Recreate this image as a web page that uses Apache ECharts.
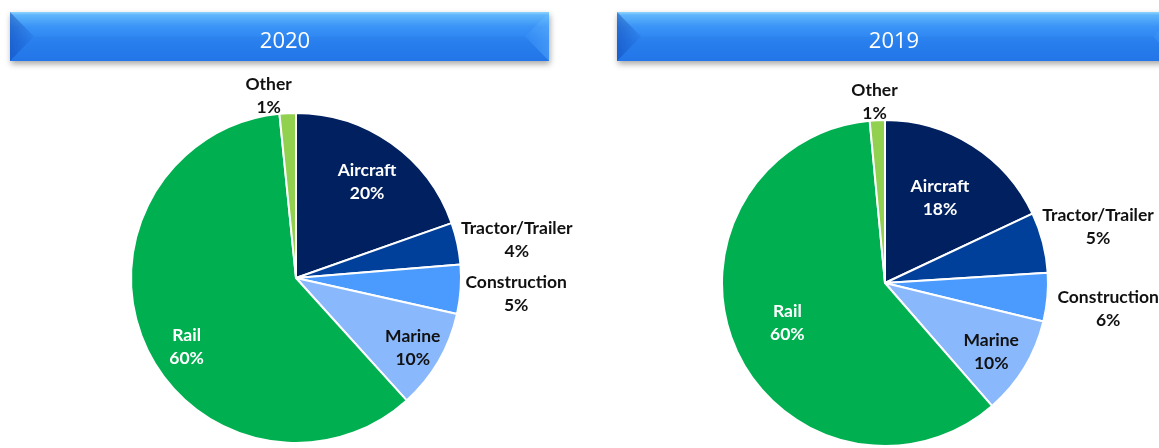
<!DOCTYPE html>
<html><head><meta charset="utf-8">
<script src="https://cdn.jsdelivr.net/npm/echarts@6/dist/echarts.min.js"></script>
<style>html,body{margin:0;padding:0;background:#fff}#c{width:1159px;height:448px}</style>
</head><body><div id="c"></div>
<script>
const categories = ['Aircraft','Tractor/Trailer','Construction','Marine','Rail','Other'];
const years = ['2020','2019'];
const values2020 = [19.6, 4.1, 4.8, 9.8, 60.1, 1.6];
const values2019 = [18.0, 6.0, 4.8, 9.8, 59.9, 1.5];
const pctLabels2020 = ['20%','4%','5%','10%','60%','1%'];
const pctLabels2019 = ['18%','5%','6%','10%','60%','1%'];

// layout-only label nudges (pixels), per category order
const nudge2020 = [[-5,11],[0,9],[-5,0],[3,4],[11,15],[-16,43]];
const nudge2019 = [[-6,11],[-3,-1],[1,6],[9,10],[7,-5],[0,42]];

const colors = ['#002060','#003f9a','#4a9bfd','#8ab8fd','#00b050','#92d050'];
const insideSet = {'Aircraft':'#ffffff','Rail':'#ffffff','Marine':'#111111'};
const FONT = 'Lato';
const FS = 17.5, LH = 23;

const chart = echarts.init(document.getElementById('c'));

function pies(vals, labels, center, r, innerFrac, nudge) {
  const base = {
    type:'pie', center:center, radius:[0, r], startAngle:90, clockwise:true,
    silent:true, label:{show:false}, labelLine:{show:false},
    itemStyle:{borderColor:'#fff', borderWidth:2},
    data: categories.map((c,i)=>({name:c, value:vals[i], itemStyle:{color:colors[i]}}))
  };
  const common = {
    type:'pie', center:center, startAngle:90, clockwise:true,
    silent:true, z:5, labelLine:{show:false}, avoidLabelOverlap:false,
    itemStyle:{color:'rgba(0,0,0,0)', borderWidth:0}
  };
  const lbl = {show:true, position:'inside', fontFamily:FONT, fontWeight:'bold', fontSize:FS, lineHeight:LH, align:'center', color:'#111'};
  const inner = Object.assign({}, common, {
    radius:[r*innerFrac, r], label:lbl,
    data: categories.map((c,i)=>({name:c, value:vals[i],
      label: insideSet[c] ? {show:true, color:insideSet[c], formatter: c+'\n'+labels[i], offset:nudge[i]} : {show:false}}))
  });
  const outer = Object.assign({}, common, {
    radius:[r, r*1.7], label:lbl,
    data: categories.map((c,i)=>({name:c, value:vals[i],
      label: insideSet[c] ? {show:false} : {show:true, formatter: c+'\n'+labels[i], offset:nudge[i]}}))
  });
  return [base, inner, outer];
}

function banner(x, y, w, h) {
  const b = 24, m = y + h/2;
  return {
    type:'group', children:[
      {type:'rect', shape:{x:x, y:y, width:w, height:h},
       style:{fill:new echarts.graphic.LinearGradient(0,0,0,1,[
         {offset:0, color:'#8fd6ff'},{offset:0.06, color:'#5fb6fb'},{offset:0.3, color:'#3a93f6'},{offset:0.6, color:'#2b83f2'},{offset:1, color:'#2479ec'}]),
         shadowBlur:6, shadowOffsetY:3, shadowOffsetX:1, shadowColor:'rgba(0,0,0,0.35)'}},
      {type:'polygon', shape:{points:[[x,y],[x+b,m],[x,y+h]]},
       style:{fill:new echarts.graphic.LinearGradient(0,0,1,0,[{offset:0,color:'rgba(10,60,170,0.45)'},{offset:1,color:'rgba(10,60,170,0.1)'}])}},
      {type:'polygon', shape:{points:[[x+w,y],[x+w-b,m],[x+w,y+h]]},
       style:{fill:new echarts.graphic.LinearGradient(1,0,0,0,[{offset:0,color:'rgba(110,190,255,0.35)'},{offset:1,color:'rgba(110,190,255,0.05)'}])}},
      {type:'polygon', shape:{points:[[x,y+h],[x+w,y+h],[x+w-b,m],[x+b,m]]},
       style:{fill:'rgba(10,60,170,0.06)'}}
    ]
  };
}

chart.setOption({
  animation:false,
  graphic:[banner(10,12,539,49), banner(617,12,560,49)],
  title:[
    {text:years[0], left:280, top:37, textAlign:'center', textVerticalAlign:'middle',
     textStyle:{color:'#fff', fontSize:22, fontWeight:'normal', fontFamily:'Open Sans'}},
    {text:years[1], left:889, top:37, textAlign:'center', textVerticalAlign:'middle',
     textStyle:{color:'#fff', fontSize:22, fontWeight:'normal', fontFamily:'Open Sans'}}
  ],
  series:[
    ...pies(values2020, pctLabels2020, [296,278], 165, 0.56, nudge2020),
    ...pies(values2019, pctLabels2019, [885,283], 163, 0.36, nudge2019)
  ]
});
</script></body></html>
